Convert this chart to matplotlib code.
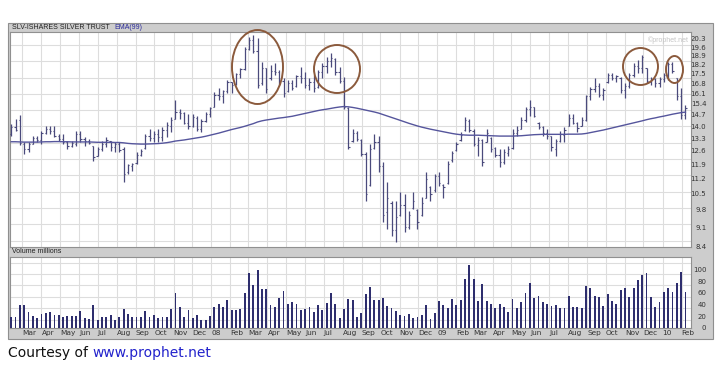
import numpy as np
import pandas as pd
import matplotlib
matplotlib.use('Agg')
import matplotlib.pyplot as plt
from matplotlib.patches import Ellipse, Rectangle
from matplotlib.ticker import NullLocator

# weekly SLV bars, Feb 2007 - Feb 2010
high = [14.11, 14.41, 14.66, 13.09, 13.09, 13.42, 13.42, 13.70, 13.99, 13.99,
        13.99, 13.54, 13.54, 13.15, 13.15, 13.70, 13.70, 13.37, 13.26, 12.87,
        12.82, 13.15, 13.37, 13.15, 13.09, 13.09, 12.82, 11.93, 11.98, 12.55,
        12.71, 13.54, 13.82, 13.70, 13.82, 13.93, 14.23, 14.53, 15.68, 15.03,
        14.84, 14.72, 14.72, 14.60, 14.41, 14.84, 15.22, 16.21, 16.49, 16.35,
        17.06, 16.91, 17.56, 17.94, 19.61, 20.47, 20.65, 20.38, 18.41, 17.94,
        18.17, 18.33, 17.79, 17.20, 17.06, 17.06, 17.42, 18.02, 17.64, 17.20,
        17.42, 17.79, 18.33, 18.80, 19.12, 18.72, 18.02, 17.27, 15.22, 13.82,
        13.70, 13.26, 12.55, 12.98, 13.54, 13.42, 12.04, 11.06, 10.16, 10.16,
        10.60, 10.51, 9.77, 10.60, 9.86, 10.37, 11.53, 10.87, 11.44, 11.53,
        10.96, 12.09, 12.60, 13.09, 13.65, 14.53, 14.41, 13.82, 13.37, 13.26,
        13.82, 13.37, 12.82, 12.71, 12.71, 12.87, 13.82, 13.99, 14.53, 15.22,
        15.68, 15.22, 14.23, 13.99, 13.82, 13.42, 13.26, 13.70, 13.93, 14.72,
        14.72, 14.23, 14.53, 16.01, 16.56, 17.20, 16.84, 16.49, 17.56, 17.56,
        17.42, 17.27, 16.84, 17.56, 18.33, 18.56, 18.96, 17.94, 17.27, 17.20,
        17.27, 17.56, 18.41, 18.41, 17.20, 16.49, 15.35]

low = [13.42, 13.70, 12.93, 12.45, 12.55, 12.98, 13.09, 12.98, 13.54, 13.54,
       13.37, 13.15, 12.98, 12.71, 12.82, 12.87, 13.09, 12.87, 12.98, 12.09,
       12.34, 12.60, 12.82, 12.60, 12.55, 12.55, 11.06, 11.44, 11.58, 11.93,
       12.34, 12.71, 13.15, 13.09, 13.09, 13.15, 13.37, 13.65, 14.41, 14.41,
       14.11, 13.82, 13.93, 13.70, 13.65, 14.23, 14.53, 15.16, 15.68, 15.48,
       16.14, 16.14, 16.70, 17.20, 17.79, 19.37, 19.12, 16.49, 16.70, 16.14,
       17.06, 17.42, 16.70, 15.87, 16.21, 16.35, 16.56, 16.84, 16.49, 16.35,
       16.21, 16.49, 17.20, 17.56, 18.02, 17.42, 16.84, 15.03, 12.71, 13.09,
       13.15, 12.34, 10.20, 10.87, 12.71, 11.53, 9.32, 9.04, 8.78, 8.55,
       9.56, 8.93, 9.04, 9.86, 9.04, 9.56, 10.29, 10.16, 10.60, 10.87,
       10.29, 10.96, 12.04, 12.60, 13.15, 13.70, 13.65, 12.87, 12.34, 11.83,
       13.09, 12.55, 12.29, 11.78, 11.93, 12.34, 12.71, 13.42, 13.82, 14.23,
       14.60, 14.53, 13.82, 13.42, 13.26, 12.60, 12.34, 13.09, 13.09, 13.99,
       14.11, 13.65, 13.99, 14.29, 15.68, 16.21, 15.87, 15.68, 16.84, 17.06,
       16.91, 16.14, 15.81, 16.49, 17.27, 17.56, 17.56, 16.84, 16.70, 16.56,
       16.56, 16.91, 17.06, 17.56, 15.68, 14.41, 14.41]

opens = [13.55, 13.95, 14.40, 13.00, 12.70, 13.00, 13.30, 13.20, 13.60, 13.85,
         13.70, 13.45, 13.25, 13.10, 12.85, 13.00, 13.55, 13.25, 13.15, 12.85,
         12.35, 12.70, 12.95, 13.15, 12.80, 12.95, 12.70, 11.50, 11.80, 11.95,
         12.40, 12.75, 13.40, 13.30, 13.55, 13.35, 13.80, 14.00, 14.45, 14.90,
         14.80, 14.20, 14.00, 14.50, 13.85, 14.30, 14.75, 15.20, 16.00, 15.90,
         16.25, 16.90, 16.75, 17.45, 17.85, 19.40, 20.20, 19.30, 16.80, 17.90,
         17.15, 17.70, 17.60, 17.00, 16.25, 16.80, 16.60, 17.30, 17.20, 16.70,
         16.90, 16.55, 17.60, 18.10, 18.50, 18.60, 17.60, 17.00, 15.10, 13.15,
         13.60, 13.20, 12.45, 10.90, 12.75, 13.10, 11.80, 9.70, 10.10, 9.00,
         9.60, 10.00, 9.10, 9.90, 9.80, 9.60, 10.30, 10.80, 10.65, 11.30,
         10.90, 11.00, 12.10, 12.65, 13.20, 13.75, 14.30, 13.70, 12.90, 13.20,
         13.10, 13.30, 12.75, 12.40, 12.00, 12.50, 12.75, 13.60, 13.85, 14.40,
         15.05, 15.20, 14.20, 13.95, 13.60, 13.40, 12.70, 13.15, 13.50, 14.00,
         14.50, 14.20, 14.00, 14.40, 15.90, 16.40, 16.60, 16.00, 16.90, 17.40,
         17.20, 17.20, 16.30, 16.60, 17.40, 18.10, 17.90, 17.90, 16.90, 17.10,
         16.80, 17.10, 17.40, 18.20, 17.20, 15.90, 14.70]

closes = [13.95, 13.80, 13.05, 12.70, 13.00, 13.30, 13.20, 13.60, 13.85, 13.70,
          13.45, 13.25, 13.10, 12.85, 13.05, 13.55, 13.25, 13.15, 13.05, 12.30,
          12.70, 12.95, 13.20, 12.80, 12.95, 12.65, 11.40, 11.85, 11.90, 12.40,
          12.60, 13.40, 13.30, 13.55, 13.35, 13.80, 14.05, 14.40, 14.90, 14.80,
          14.20, 14.00, 14.55, 13.85, 14.30, 14.75, 15.15, 16.00, 15.90, 16.25,
          16.90, 16.70, 17.45, 17.85, 19.40, 20.20, 19.30, 16.70, 17.90, 16.40,
          17.70, 17.60, 17.00, 16.10, 16.80, 16.50, 17.30, 17.20, 16.70, 16.90,
          16.50, 17.60, 18.10, 18.50, 18.70, 17.60, 17.00, 15.20, 12.80, 13.60,
          13.25, 12.45, 10.50, 12.70, 13.10, 11.80, 9.60, 10.30, 9.00, 9.50,
          10.00, 9.10, 9.60, 10.20, 9.30, 10.10, 11.20, 10.50, 11.30, 11.00,
          10.80, 11.90, 12.50, 12.95, 13.50, 14.35, 13.80, 13.00, 13.20, 12.00,
          13.60, 12.70, 12.40, 12.00, 12.55, 12.70, 13.60, 13.75, 14.40, 15.05,
          15.20, 14.60, 13.95, 13.60, 13.45, 12.80, 13.15, 13.55, 13.80, 14.50,
          14.20, 13.90, 14.40, 15.90, 16.40, 16.60, 16.00, 16.30, 17.40, 17.20,
          17.30, 16.30, 16.60, 17.40, 18.10, 17.90, 18.80, 17.00, 17.10, 16.80,
          17.10, 17.40, 18.20, 17.70, 15.90, 14.70, 15.10]

ema99 = [13.10, 13.10, 13.09, 13.08, 13.08, 13.08, 13.08, 13.09, 13.10, 13.10,
         13.11, 13.11, 13.10, 13.10, 13.09, 13.09, 13.09, 13.09, 13.09, 13.08,
         13.07, 13.07, 13.07, 13.07, 13.06, 13.06, 13.04, 13.01, 12.99, 12.98,
         12.97, 12.97, 12.98, 12.99, 13.00, 13.02, 13.05, 13.09,
         13.14, 13.17, 13.20, 13.24, 13.28, 13.32, 13.36, 13.41, 13.47, 13.53, 13.59, 13.66,
         13.73, 13.80, 13.86, 13.92, 13.99, 14.07, 14.15, 14.25, 14.32, 14.37,
         14.41, 14.45, 14.49, 14.52, 14.56, 14.60, 14.66, 14.72, 14.78, 14.84,
         14.90, 14.96, 15.01, 15.05, 15.10, 15.15, 15.19, 15.22, 15.20, 15.16,
         15.11, 15.05, 14.99, 14.93, 14.87, 14.80, 14.71, 14.62, 14.53, 14.44,
         14.35, 14.26, 14.17, 14.09, 14.01, 13.94, 13.88, 13.82, 13.77, 13.72,
         13.67, 13.62, 13.57, 13.53, 13.50, 13.48, 13.47, 13.47, 13.47, 13.46,
         13.45, 13.44, 13.43, 13.42, 13.42, 13.42, 13.42, 13.43, 13.44, 13.46,
         13.48, 13.50, 13.51, 13.52, 13.52, 13.52, 13.52, 13.52, 13.52, 13.53,
         13.53, 13.53, 13.54, 13.57, 13.62, 13.67, 13.72, 13.77, 13.83, 13.89,
         13.95, 14.01, 14.07, 14.13, 14.19, 14.26, 14.32, 14.39, 14.45, 14.50,
         14.56, 14.61, 14.67, 14.73, 14.78, 14.83, 14.86]

# volume, millions of shares
volume = [19, 19, 39, 39, 28, 21, 17, 24, 25, 28,
          22, 22, 18, 21, 21, 21, 29, 17, 15, 39,
          13, 18, 18, 22, 14, 18, 32, 24, 18, 18,
          19, 29, 18, 22, 17, 18, 19, 33, 59, 36,
          18, 30, 17, 22, 14, 14, 21, 35, 41, 35,
          48, 30, 30, 32, 60, 93, 73, 98, 67, 67,
          39, 36, 51, 63, 41, 44, 41, 30, 32, 35,
          27, 39, 30, 43, 60, 41, 17, 32, 50, 48,
          19, 25, 58, 70, 48, 48, 51, 37, 34, 29,
          22, 21, 24, 17, 19, 22, 39, 15, 25, 46,
          39, 34, 49, 39, 48, 84, 107, 84, 46, 75,
          46, 41, 34, 41, 35, 28, 49, 34, 44, 60,
          76, 51, 54, 44, 41, 37, 39, 34, 34, 54,
          35, 35, 34, 72, 68, 55, 53, 37, 58, 46,
          41, 65, 69, 53, 68, 81, 90, 93, 53, 36,
          44, 62, 68, 61, 77, 95, 62]

price_ticks = [8.4, 9.1, 9.8, 10.5, 11.2, 11.9, 12.6, 13.3, 14.0, 14.7,
               15.4, 16.1, 16.8, 17.5, 18.2, 18.9, 19.6, 20.3]
vol_ticks = [0, 20, 40, 60, 80, 100]
month_labels = ['Mar', 'Apr', 'May', 'Jun', 'Jul', 'Aug', 'Sep', 'Oct', 'Nov', 'Dec', '08', 'Feb',
                'Mar', 'Apr', 'May', 'Jun', 'Jul', 'Aug', 'Sep', 'Oct', 'Nov', 'Dec', '09', 'Feb',
                'Mar', 'Apr', 'May', 'Jun', 'Jul', 'Aug', 'Sep', 'Oct', 'Nov', 'Dec', '10', 'Feb']

weeks = pd.date_range('2007-02-11', periods=len(closes), freq='7D')
months = pd.date_range('2007-03-01', periods=len(month_labels), freq='MS')

bar_c = '#4a4a7c'
ema_c = '#55559c'
vol_c = '#2e2e6e'
grid_c = '#dddddd'
panel_c = '#cdcdcd'
edge_c = '#8f8f8f'
circ_c = '#8b5a3c'

W, H = 720, 365
fig = plt.figure(figsize=(W / 100, H / 100), dpi=100)
fig.patch.set_facecolor('white')


def fx(x):
    return x / W


def fy(y):
    return 1 - y / H


# gray chart frame behind both panels
fig.add_artist(Rectangle((fx(8), fy(339)), fx(713) - fx(8), fy(23) - fy(339),
                         transform=fig.transFigure, fc=panel_c, ec=edge_c, lw=0.8,
                         zorder=-10))

ax = fig.add_axes([fx(10), fy(247), fx(691) - fx(10), fy(32) - fy(247)])
axv = fig.add_axes([fx(10), fy(328), fx(691) - fx(10), fy(257) - fy(328)], sharex=ax)

# price bars
tick = pd.Timedelta(days=2)
ax.vlines(weeks, low, high, color=bar_c, lw=0.9, zorder=3)
ax.hlines(opens, weeks - tick, weeks, color=bar_c, lw=0.8, zorder=3)
ax.hlines(closes, weeks, weeks + tick, color=bar_c, lw=0.8, zorder=3)
ax.plot(weeks, ema99, color=ema_c, lw=1.0, zorder=4)
ax.set_yscale('log')
ax.set_ylim(8.37, 20.9)

# horizontal grid of the price panel is evenly spaced on screen
for ypx in 45 + 16.3 * np.arange(13):
    ax.plot([0, 1], [(247 - ypx) / 215] * 2, transform=ax.transAxes,
            color=grid_c, lw=0.8, zorder=1)

# volume bars
axv.bar(weeks, volume, width=3.0, color=vol_c, zorder=3)
axv.set_ylim(0, 121)
for v in [14, 33.5, 53, 72.5, 92, 111]:
    axv.axhline(v, color=grid_c, lw=0.8, zorder=1)

ax.set_xlim(pd.Timestamp('2007-02-09'), pd.Timestamp('2010-02-16'))

for a in (ax, axv):
    a.set_facecolor('white')
    a.set_xticks(months)
    a.grid(axis='x', color=grid_c, lw=0.8, zorder=1)
    a.yaxis.tick_right()
    a.yaxis.set_minor_locator(NullLocator())
    a.tick_params(length=0, labelsize=5, labelcolor='#333333')
    for s in a.spines.values():
        s.set_color('#909090')
        s.set_linewidth(0.8)

ax.set_yticks(price_ticks)
ax.set_yticklabels([f'{t:.1f}' for t in price_ticks])
ax.tick_params(axis='y', pad=11)
for lbl in ax.get_yticklabels():
    lbl.set_ha('right')
ax.tick_params(axis='x', labelbottom=False)

axv.set_yticks(vol_ticks)
axv.set_yticklabels([str(t) for t in vol_ticks])
axv.tick_params(axis='y', pad=11)
for lbl in axv.get_yticklabels():
    lbl.set_ha('right')
axv.set_xticklabels(month_labels, ha='left', fontsize=5.3)
axv.tick_params(axis='x', pad=1.5)

# header texts
small = dict(family='Liberation Sans', fontsize=5, va='center')
fig.text(fx(12), fy(27.5), 'SLV-ISHARES SILVER TRUST', color='#222222', **small)
fig.text(fx(114), fy(27.5), 'EMA(99)', color='#2a2a9a', **small)
fig.text(fx(12), fy(251.5), 'Volume millions', color='#222222', **small)
fig.text(fx(668), fy(40), '\u00a9prophet.net', color='#c4c4c4', ha='center',
         family='Liberation Sans', fontsize=5, va='center')

# hand-drawn circles
for cx, cy, w, h in [(257.5, 67, 51, 74), (337, 69, 46, 48),
                     (640.5, 66.5, 35, 37), (674.5, 69.5, 17, 27)]:
    fig.add_artist(Ellipse((fx(cx), fy(cy)), w / W, h / H, transform=fig.transFigure,
                           fill=False, ec=circ_c, lw=1.4, zorder=10))

fig.text(fx(8), fy(353), 'Courtesy of ', fontsize=10, color='#111111', va='center')
fig.text(fx(92), fy(353), 'www.prophet.net', fontsize=10, color='#2222cc', va='center')

fig.savefig('out.png', dpi=100)
